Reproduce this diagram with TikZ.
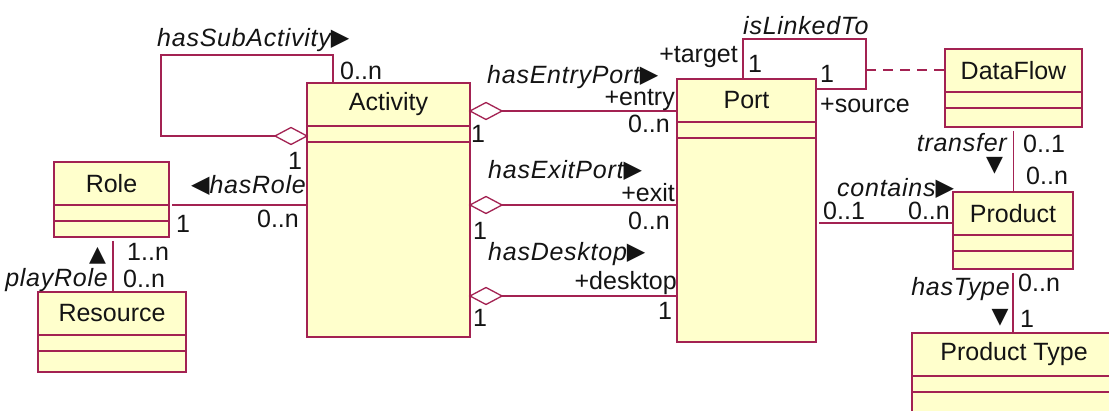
\documentclass[tikz,border=0pt]{standalone}
\usepackage{fontspec}
\setmainfont{Liberation Sans}
\newfontfamily\labelfont[LetterSpace=3]{Liberation Sans}
\newfontfamily\symfont{DejaVu Sans}

\definecolor{umlline}{RGB}{163,34,82}
\definecolor{umlfill}{RGB}{255,255,204}
\definecolor{umltext}{RGB}{20,20,20}

\tikzset{
  cls/.style={draw=umlline, fill=umlfill, line width=1.6pt, rectangle,
              inner sep=0pt, outer sep=0pt, anchor=north west},
  clsname/.style={font=\fontsize{25}{30}\selectfont, inner sep=0pt, text=umltext},
  assoc/.style={draw=umlline, line width=1.6pt},
  linkdash/.style={draw=umlline, line width=1.6pt, dash pattern=on 10pt off 7pt},
  agg/.style={draw=umlline, fill=white, line width=1.3pt, line join=miter},
  lbl/.style={font=\fontsize{25}{30}\selectfont, inner sep=0pt, text=umltext},
  ilbl/.style={lbl, font=\labelfont\fontsize{25}{30}\selectfont\itshape},
  tri/.style={inner sep=0pt, font=\fontsize{22}{22}\selectfont\symfont, text=umltext}
}

% direction marks set beside the association names
\newcommand\dirR{\raisebox{1.5pt}{\symfont\fontsize{24}{24}\selectfont ▶}}
\newcommand\dirL{\raisebox{1pt}{\symfont\fontsize{24}{24}\selectfont ◀}}

% class box: name, x, y (top left), width, height, title
\newcommand\umlclass[6]{%
  \node[cls, minimum width=#4pt, minimum height=#5pt] (#1) at (#2,#3) {};
  \draw[assoc] ([yshift=-43pt]#1.north west) -- ([yshift=-43pt]#1.north east);
  \draw[assoc] ([yshift=-59pt]#1.north west) -- ([yshift=-59pt]#1.north east);
  \node[clsname] (#1-name) at ([yshift=-21.5pt]#1.north) {#6};
}

% hollow aggregation diamond: tip point, signed half length
\newcommand\aggdiamond[2]{%
  \filldraw[agg] (#1) -- ++(#2,-8.5) -- ++(#2,8.5) -- ++({-(#2)},8.5) -- cycle;
}

\begin{document}
\begin{tikzpicture}[x=1pt, y=-1pt]
\useasboundingbox (0,0) rectangle (1109,411);
\clip (0,0) rectangle (1109,411);
\fill[white] (0,0) rectangle (1109,411);

% classes
\umlclass{activity}{307}{83}{163}{254}{Activity}
\umlclass{role}{54}{162}{115}{75}{Role}
\umlclass{resource}{38}{292}{148}{80}{Resource}
\umlclass{port}{677}{79}{139}{263}{Port}
\umlclass{dataflow}{945}{49}{137}{78}{DataFlow}
\umlclass{product}{953}{192}{120}{77}{Product}
\umlclass{ptype}{912}{333}{204}{100}{Product Type}

% hasSubActivity (self aggregation)
\draw[assoc] ([xshift=26pt]activity.north west) -- ++(0,-28) -- ++(-172,0) -- ++(0,81)
  -- ([yshift=-53pt]activity.north west);
\aggdiamond{[yshift=-53pt]activity.north west}{-16}

% Activity -- Port aggregations
\draw[assoc] ([yshift=-28pt]activity.north east) -- ([yshift=-32pt]port.north west);
\aggdiamond{[yshift=-28pt]activity.north east}{16}
\draw[assoc] ([yshift=-122pt]activity.north east) -- ([yshift=-126pt]port.north west);
\aggdiamond{[yshift=-122pt]activity.north east}{16}
\draw[assoc] ([yshift=-213pt]activity.north east) -- ([yshift=-217pt]port.north west);
\aggdiamond{[yshift=-213pt]activity.north east}{16}

% hasRole
\draw[assoc, shorten <=3pt] ([yshift=-43pt]role.north east) -- ([yshift=-122pt]activity.north west);
% playRole
\draw[assoc, shorten <=4pt] ([xshift=59pt]role.south west) -- ([xshift=75pt]resource.north west);

% isLinkedTo (self association) and its association class
\draw[assoc] ([xshift=66pt]port.north west) -- ++(0,-40) -- ++(123,0) coordinate (linkcorner)
  -- ++(0,50) -- ([yshift=-10pt]port.north east);
\coordinate (linkmid) at ([yshift=-31pt]linkcorner);
\draw[linkdash] (linkmid) -- ([yshift=-21pt]dataflow.north west);

% contains
\draw[assoc, shorten <=3pt] ([yshift=-144pt]port.north east) -- ([yshift=-31pt]product.north west);
% transfer
\draw[assoc, shorten <=4pt] (dataflow.south) -- (dataflow.south |- product.north);
% hasType
\draw[assoc, shorten <=4pt] (product.south) -- (product.south |- ptype.north);

% association and role labels
\node[ilbl, anchor=base west] (l-sub) at (157,47) {hasSubActivity\dirR};
\node[lbl, anchor=base west] (m-sub-n) at (340,80) {0..n};
\node[lbl, anchor=base] (m-sub-1) at (295,170) {1};

\node[ilbl, anchor=base east] (l-role) at (306,194) {\dirL hasRole};
\node[lbl, anchor=base] (m-role-1) at (183,233) {1};
\node[lbl, anchor=base east] (m-role-n) at (299,228) {0..n};

\node[tri] (t-play) at (97.5,256) {▲};
\node[ilbl, anchor=base east] (l-play) at (108,287) {playRole};
\node[lbl, anchor=base west] (m-play-1n) at (127,261) {1..n};
\node[lbl, anchor=base west] (m-play-0n) at (123,288) {0..n};

\node[ilbl, anchor=base west] (l-entry) at (487,84) {hasEntryPort\dirR};
\node[lbl, anchor=base east] (r-entry) at (675,106) {+entry};
\node[lbl, anchor=base east] (m-entry-n) at (670,133) {0..n};
\node[lbl, anchor=base] (m-entry-1) at (478,143) {1};

\node[ilbl, anchor=base west] (l-exit) at (488,179) {hasExitPort\dirR};
\node[lbl, anchor=base east] (r-exit) at (675,202) {+exit};
\node[lbl, anchor=base east] (m-exit-n) at (670,230) {0..n};
\node[lbl, anchor=base] (m-exit-1) at (480,240) {1};

\node[ilbl, anchor=base west] (l-desk) at (488,261) {hasDesktop\dirR};
\node[lbl, anchor=base east] (r-desk) at (677,290) {+desktop};
\node[lbl, anchor=base] (m-desk-p) at (665,320) {1};
\node[lbl, anchor=base] (m-desk-a) at (480,327) {1};

\node[ilbl, anchor=base west] (l-link) at (743,35) {isLinkedTo};
\node[lbl, anchor=base east] (r-target) at (738,63) {+target};
\node[lbl, anchor=base] (m-target) at (755,73) {1};
\node[lbl, anchor=base] (m-source) at (827,83) {1};
\node[lbl, anchor=base west] (r-source) at (820,113) {+source};

\node[ilbl, anchor=base west] (l-contains) at (837,197) {contains\dirR};
\node[lbl, anchor=base west] (m-cont-p) at (823,220) {0..1};
\node[lbl, anchor=base east] (m-cont-n) at (950,220) {0..n};

\node[ilbl, anchor=base east] (l-transfer) at (1007,152) {transfer};
\node[tri] (t-transfer) at (994.5,166) {▼};
\node[lbl, anchor=base west] (m-tr-1) at (1023,153) {0..1};
\node[lbl, anchor=base west] (m-tr-n) at (1026,185) {0..n};

\node[ilbl, anchor=base east] (l-type) at (1010,296) {hasType};
\node[tri] (t-type) at (1000,318) {▼};
\node[lbl, anchor=base west] (m-type-n) at (1018,292) {0..n};
\node[lbl, anchor=base] (m-type-1) at (1027,328) {1};
\end{tikzpicture}
\end{document}
